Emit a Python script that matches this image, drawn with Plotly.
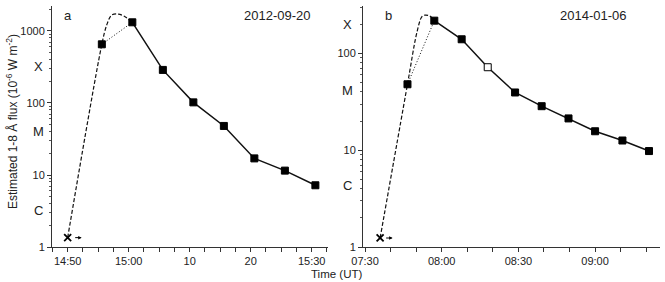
import plotly.graph_objects as go

# ---- data ----
day_a = "2012-09-20"
start_a = "14:50:00"
start_flux_a = 1.35
times_a = ["14:55:36", "15:00:36", "15:05:36", "15:10:36", "15:15:36",
           "15:20:36", "15:25:36", "15:30:36"]
flux_a = [653, 1320, 288, 102, 48, 17, 11.5, 7.2]
# dashed rise curve (start -> peak -> second point)
curve_times_a = ["14:50:00", "14:55:36", "14:56:24", "14:57:12", "14:58:18",
                 "14:59:24", "15:00:36"]
curve_flux_a = [1.35, 653, 1210, 1660, 1720, 1580, 1320]

day_b = "2014-01-06"
start_b = "07:35:54"
start_flux_b = 1.24
times_b = ["07:46:36", "07:57:06", "08:07:48", "08:18:00", "08:28:42",
           "08:39:06", "08:49:36", "09:00:00", "09:10:42", "09:21:06"]
flux_b = [48, 218, 140, 72, 39.5, 28.5, 21.3, 15.7, 12.6, 9.8]
open_b = [False, False, False, True, False, False, False, False, False, False]
curve_times_b = ["07:35:54", "07:46:36", "07:50:12", "07:52:12", "07:53:30",
                 "07:55:24", "07:57:06"]
curve_flux_b = [1.24, 48, 161, 239, 249, 243, 218]

y_ticks = [1, 10, 100, 1000]
minor_y = [m * 10 ** d for d in range(0, 4) for m in range(2, 10)]

W, H = 665, 282


def px(x):
    return x / W


def py(y):
    return 1 - y / H


def ts(day, t):
    return [f"{day} {v}" for v in t]


fig = go.Figure()
line_col = "#111111"

for day, start, sflux, tms, flx, ctimes, cflux, xa, ya, opens in [
    (day_a, start_a, start_flux_a, times_a, flux_a, curve_times_a, curve_flux_a, "x", "y", None),
    (day_b, start_b, start_flux_b, times_b, flux_b, curve_times_b, curve_flux_b, "x2", "y2", open_b),
]:
    # dashed model curve
    fig.add_trace(go.Scatter(x=ts(day, ctimes), y=cflux, mode="lines", xaxis=xa, yaxis=ya,
                             line=dict(color=line_col, width=1.2, dash="4px,2px", shape="spline",
                                       smoothing=0.9)))
    # dotted straight link between first two points
    fig.add_trace(go.Scatter(x=ts(day, tms[:2]), y=flx[:2], mode="lines", xaxis=xa, yaxis=ya,
                             line=dict(color=line_col, width=1, dash="1px,2px")))
    # solid decay
    fig.add_trace(go.Scatter(x=ts(day, tms[1:]), y=flx[1:], mode="lines", xaxis=xa, yaxis=ya,
                             line=dict(color=line_col, width=1.5)))
    fills = ["white" if (opens and opens[i]) else "black" for i in range(len(flx))]
    fig.add_trace(go.Scatter(x=ts(day, tms), y=flx, mode="markers", xaxis=xa, yaxis=ya,
                             marker=dict(symbol="square", size=7, color=fills,
                                         line=dict(color="black", width=1))))
    # start marker
    fig.add_trace(go.Scatter(x=[f"{day} {start}"], y=[sflux], mode="markers", xaxis=xa, yaxis=ya,
                             marker=dict(symbol="x-thin", size=7,
                                         line=dict(color="black", width=1.8))))

axis_common = dict(showline=True, linecolor="#333333", linewidth=1, ticks="outside",
                   ticklen=4, tickcolor="#333333", showgrid=False, zeroline=False,
                   automargin=False,
                   tickfont=dict(family="Liberation Sans, Arial", size=11, color="#222222"))

fig.update_layout(
    template="none",
    width=W, height=H, margin=dict(l=0, r=0, t=0, b=0, pad=0),
    plot_bgcolor="white", paper_bgcolor="white", showlegend=False,
    xaxis=dict(domain=[px(52), px(328)], anchor="y", type="date",
               range=[f"{day_a} 14:47:26", f"{day_a} 15:32:40"],
               tickmode="array",
               tickvals=ts(day_a, ["14:50", "15:00", "15:10", "15:20", "15:30"]),
               ticktext=["14:50", "15:00", "10", "20", "15:30"],
               minor=dict(tick0=f"{day_a} 14:50", dtick=150000, ticklen=4, ticks="outside",
                          tickcolor="#333333"),
               **axis_common),
    yaxis=dict(domain=[py(247), py(6)], anchor="x", type="log", range=[0, 3.347],
               tickmode="array", tickvals=y_ticks, ticktext=[str(v) for v in y_ticks],
               minor=dict(tickvals=minor_y, ticklen=2.5, ticks="outside", tickcolor="#555555"),
               **axis_common),
    xaxis2=dict(domain=[px(363), px(660)], anchor="y2", type="date",
                range=[f"{day_b} 07:29:12", f"{day_b} 09:25:24"],
                tickmode="array",
                tickvals=ts(day_b, ["07:30", "08:00", "08:30", "09:00"]),
                ticktext=["07:30", "08:00", "08:30", "09:00"],
                minor=dict(tick0=f"{day_b} 07:30", dtick=600000, ticklen=4, ticks="outside",
                           tickcolor="#333333"),
                **axis_common),
    yaxis2=dict(domain=[py(247), py(6)], anchor="x2", type="log", range=[0, 2.49],
                tickmode="array", tickvals=y_ticks[:3], ticktext=[str(v) for v in y_ticks[:3]],
                minor=dict(tickvals=minor_y, ticklen=2.5, ticks="outside", tickcolor="#555555"),
                **axis_common),
)

font = dict(family="Liberation Sans, Arial", color="#222222")
ann = []


def label(x, y, text, size=13, **kw):
    ann.append(dict(x=px(x), y=py(y), xref="paper", yref="paper", text=text, showarrow=False,
                    xanchor="center", yanchor="middle", font=dict(size=size, **font), **kw))


# class letters
for x, y, t in [(38, 67, "X"), (38, 131, "M"), (38, 210, "C"),
                (347, 25, "X"), (347, 90, "M"), (347, 185, "C")]:
    label(x, y, t)
# panel labels and dates
for x, y, t in [(68, 16, "a"), (277, 16, "2012-09-20"), (388, 15, "b"), (593, 15, "2014-01-06")]:
    label(x, y, t)
label(12, 122, "Estimated 1-8 Å flux (10<sup>-6</sup> W m<sup>-2</sup>)", size=12, textangle=-90)
label(336, 274, "Time (UT)", size=11.5)
# small arrows after start markers
ann.append(dict(x=f"{day_a} 14:52:18", y=0.13, xref="x", yref="y", ax=-8, ay=0,
                showarrow=True, arrowhead=2, arrowsize=0.7, arrowwidth=1, arrowcolor="black", text=""))
ann.append(dict(x=f"{day_b} 07:40:48", y=0.093, xref="x2", yref="y2", ax=-8, ay=0,
                showarrow=True, arrowhead=2, arrowsize=0.7, arrowwidth=1, arrowcolor="black", text=""))
fig.update_layout(annotations=ann)

fig.write_html("out.html", config={"displayModeBar": False},
               post_script="document.body.style.margin='0';")
